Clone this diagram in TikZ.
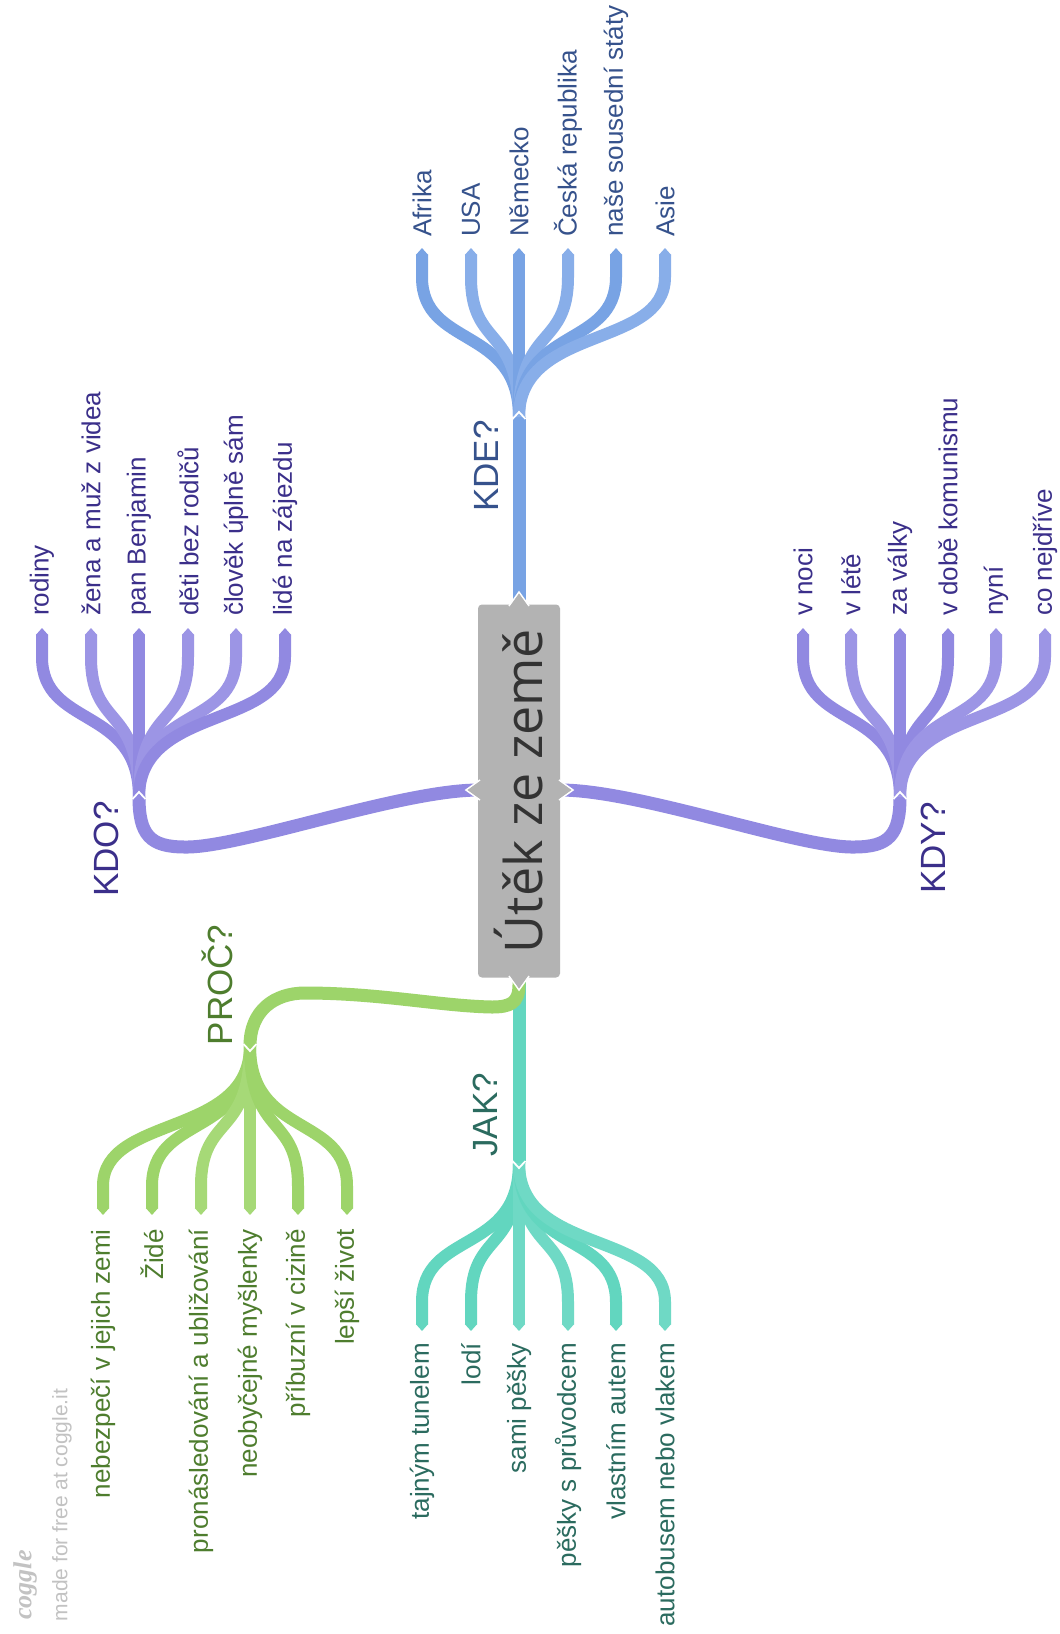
\documentclass[tikz,border=0pt]{standalone}
\usepackage{fontspec}
\setmainfont{Liberation Sans}
\newfontfamily\centerfont{Open Sans}
\newfontfamily\logofont{Liberation Serif}
\usetikzlibrary{arrows.meta,calc}
\definecolor{bl}{HTML}{78A3E4}
\definecolor{bl2}{HTML}{88AEE9}
\definecolor{blt}{HTML}{36528C}
\definecolor{pu}{HTML}{9189E1}
\definecolor{pu2}{HTML}{9C95E5}
\definecolor{put}{HTML}{3B2F8A}
\definecolor{gr}{HTML}{9DD46A}
\definecolor{gr2}{HTML}{A6D977}
\definecolor{grt}{HTML}{4E7D2E}
\definecolor{te}{HTML}{62D6BF}
\definecolor{te2}{HTML}{6FD9C5}
\definecolor{tet}{HTML}{2B6B5F}
\definecolor{ctr}{HTML}{B3B3B3}
\definecolor{ctrt}{HTML}{333333}
\definecolor{wm}{HTML}{C2C2C2}
\begin{document}
\begin{tikzpicture}[x=1pt,y=-1pt,
  link/.style={line width=13pt},
  leafline/.style={line width=12pt,-{Triangle[length=7pt,width=12pt]}},
  leafup/.style={rotate=90,anchor=west,inner sep=0pt,font=\fontsize{26}{30}\selectfont},
  leafdown/.style={rotate=90,anchor=east,inner sep=0pt,font=\fontsize{26}{30}\selectfont},
  cat/.style={rotate=90,inner sep=0pt,font=\fontsize{35}{40}\selectfont},
  notch/.style={white,line width=1.8pt,line join=miter},
  boxtip/.style={fill=ctr,draw=white,line width=1.5pt}]
\useasboundingbox (0,0) rectangle (1060,1634);
\fill[white] (0,0) rectangle (1060,1634);

% anchor points
\coordinate (ctop) at (519,605);
\coordinate (cbot) at (519,977);
\coordinate (cleft) at (479,790);
\coordinate (cright) at (560,790);
\coordinate (kde) at (519,417);
\coordinate (kdo) at (139,797);
\coordinate (kdy) at (900,797);
\coordinate (jak) at (519,1163);
\coordinate (proc) at (250,1046);

% main connectors
\draw[link,bl] (ctop) -- (kde);
\draw[link,te] (cbot) -- (jak);
\draw[link,pu] (cleft) .. controls (400,790) and (240,848) .. (185,847)
  .. controls (150,847) and (139,835) .. (kdo);
\draw[link,pu] (cright) .. controls (639,790) and (799,848) .. (854,847)
  .. controls (889,847) and (900,835) .. (kdy);
\draw[link,gr] (cbot) -- (519,985) .. controls (519,1003) and (510,1007) .. (492,1007)
  .. controls (440,1006) and (380,993) .. (305,993)
  .. controls (275,993) and (250,1010) .. (proc);

% KDE fan
\foreach \i/\x/\t/\c in {1/422/Afrika/bl,2/471/USA/bl2,3/519/Německo/bl,4/568/{Česká republika}/bl2,5/616/{naše sousední státy}/bl,6/665/Asie/bl2}{
  \coordinate (kdet\i) at (\x,248);
  \node[leafup,text=blt] (kdel\i) at (\x,237) {\t};
  \draw[leafline,\c] (kde) .. controls +(0,-92) and +(0,72) .. (\x,277) -- (kdet\i);
}
% KDO fan
\foreach \i/\x/\t/\c in {1/42/rodiny/pu,2/91/{žena a muž z videa}/pu2,3/139/{pan Benjamin}/pu,4/188/{děti bez rodičů}/pu2,5/236/{člověk úplně sám}/pu2,6/285/{lidé na zájezdu}/pu}{
  \coordinate (kdot\i) at (\x,628);
  \node[leafup,text=put] (kdol\i) at (\x,616) {\t};
  \draw[leafline,\c] (kdo) .. controls +(0,-92) and +(0,72) .. (\x,657) -- (kdot\i);
}
% KDY fan
\foreach \i/\x/\t/\c in {1/803/{v noci}/pu,2/851/{v létě}/pu2,3/900/{za války}/pu,4/948/{v době komunismu}/pu,5/996/nyní/pu2,6/1045/{co nejdříve}/pu2}{
  \coordinate (kdyt\i) at (\x,628);
  \node[leafup,text=put] (kdyl\i) at (\x,616) {\t};
  \draw[leafline,\c] (kdy) .. controls +(0,-92) and +(0,72) .. (\x,657) -- (kdyt\i);
}
% JAK fan
\foreach \i/\x/\t/\c in {1/422/{tajným tunelem}/te,2/471/lodí/te,3/519/{sami pěšky}/te2,4/568/{pěšky s průvodcem}/te2,5/616/{vlastním autem}/te,6/665/{autobusem nebo vlakem}/te2}{
  \coordinate (jakt\i) at (\x,1331);
  \node[leafdown,text=tet] (jakl\i) at (\x,1343) {\t};
  \draw[leafline,\c] (jak) .. controls +(0,92) and +(0,-72) .. (\x,1302) -- (jakt\i);
}
% PROC fan
\foreach \i/\x/\t/\c in {1/103/{nebezpečí v jejich zemi}/gr,2/152/Židé/gr,3/201/{pronásledování a ubližování}/gr2,4/250/{neobyčejné myšlenky}/gr2,5/298/{příbuzní v cizině}/gr,6/347/{lepší život}/gr}{
  \coordinate (proct\i) at (\x,1215);
  \node[leafdown,text=grt] (procl\i) at (\x,1229) {\t};
  \draw[leafline,\c] (proc) .. controls +(0,92) and +(0,-72) .. (\x,1186) -- (proct\i);
}

% notches
\draw[notch] ($(kde)+(-6.5,2)$) -- ($(kde)+(0,-5)$) -- ($(kde)+(6.5,2)$);
\draw[notch] ($(kdo)+(-6.5,2)$) -- ($(kdo)+(0,-5)$) -- ($(kdo)+(6.5,2)$);
\draw[notch] ($(kdy)+(-6.5,2)$) -- ($(kdy)+(0,-5)$) -- ($(kdy)+(6.5,2)$);
\draw[notch] ($(jak)+(-6.5,-2)$) -- ($(jak)+(0,5)$) -- ($(jak)+(6.5,-2)$);
\draw[notch] ($(proc)+(-6.5,-2)$) -- ($(proc)+(0,5)$) -- ($(proc)+(6.5,-2)$);

% center node
\node[fill=ctr,rounded corners=4pt,rotate=90,minimum width=373pt,minimum height=82pt,inner sep=0pt,
  text=ctrt,font=\centerfont\fontsize{52}{60}\selectfont] (center) at (519,791) {Útěk ze země};
\draw[boxtip] ($(ctop)+(-10,1)$) -- ($(ctop)+(0,-13)$) -- ($(ctop)+(10,1)$);
\fill[ctr] ($(ctop)+(-9,1.5)$) -- ($(ctop)+(0,-11)$) -- ($(ctop)+(9,1.5)$) -- cycle;
\draw[boxtip] ($(cbot)+(-10,-1)$) -- ($(cbot)+(0,13)$) -- ($(cbot)+(10,-1)$);
\fill[ctr] ($(cbot)+(-9,-1.5)$) -- ($(cbot)+(0,11)$) -- ($(cbot)+(9,-1.5)$) -- cycle;
\draw[boxtip] ($(cleft)+(1,-10)$) -- ($(cleft)+(-13,0)$) -- ($(cleft)+(1,10)$);
\fill[ctr] ($(cleft)+(1.5,-9)$) -- ($(cleft)+(-11,0)$) -- ($(cleft)+(1.5,9)$) -- cycle;
\draw[boxtip] ($(cright)+(-1,-10)$) -- ($(cright)+(13,0)$) -- ($(cright)+(-1,10)$);
\fill[ctr] ($(cright)+(-1.5,-9)$) -- ($(cright)+(11,0)$) -- ($(cright)+(-1.5,9)$) -- cycle;

% branch labels
\node[cat,text=blt] (kdelab) at (486,466) {KDE?};
\node[cat,text=put] (kdolab) at (106,849) {KDO?};
\node[cat,text=put] (kdylab) at (933,848) {KDY?};
\node[cat,text=grt] (proclab) at (217,985) {PROČ?};
\node[cat,text=tet] (jaklab) at (485,1115) {JAK?};

% watermark
\node[rotate=90,inner sep=0pt,text=wm,font=\fontsize{21}{24}\selectfont] (made) at (62,1505) {made for free at coggle.it};
\node[rotate=90,inner sep=0pt,text=wm,font=\logofont\itshape\bfseries\fontsize{26}{30}\selectfont] (logo) at (25,1585) {coggle};
\end{tikzpicture}
\end{document}
